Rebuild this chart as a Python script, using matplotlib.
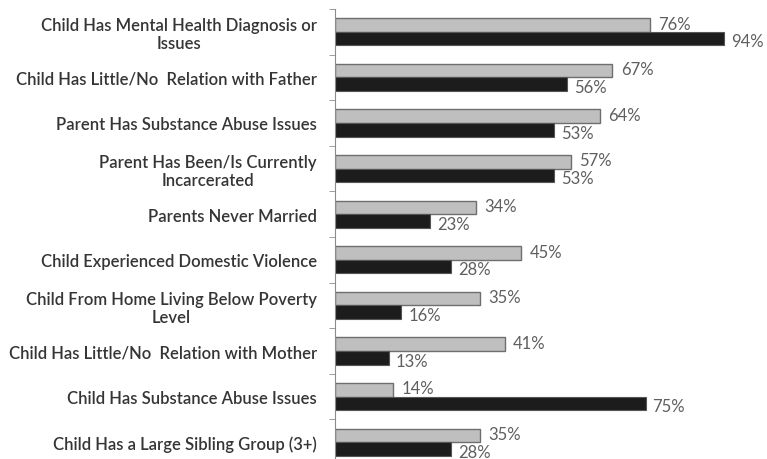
import matplotlib
matplotlib.use("Agg")
import matplotlib.pyplot as plt
import numpy as np

categories = [
    "Child Has Mental Health Diagnosis or\nIssues",
    "Child Has Little/No  Relation with Father",
    "Parent Has Substance Abuse Issues",
    "Parent Has Been/Is Currently\nIncarcerated",
    "Parents Never Married",
    "Child Experienced Domestic Violence",
    "Child From Home Living Below Poverty\nLevel",
    "Child Has Little/No  Relation with Mother",
    "Child Has Substance Abuse Issues",
    "Child Has a Large Sibling Group (3+)",
]
gray_vals = [76, 67, 64, 57, 34, 45, 35, 41, 14, 35]
black_vals = [94, 56, 53, 53, 23, 28, 16, 13, 75, 28]

W, H = 767, 460
fig = plt.figure(figsize=(W / 100, H / 100), dpi=100)
# axes box in pixels: left 335, top 10, bottom 466 (cut off), 4.14 px per %
ax = fig.add_axes([335 / W, (H - 466) / H, 414 / W, 456 / H])

y = np.arange(len(categories))
bh = 0.30
ax.barh(y - bh / 2, gray_vals, height=bh, color="#bfbfbf", edgecolor="#6e6e6e", linewidth=1.0)
ax.barh(y + bh / 2, black_vals, height=bh, color="#1c1c1c", edgecolor="#555555", linewidth=0.8)

ax.set_xlim(0, 100)
ax.set_ylim(len(categories) - 0.5, -0.5)

lab_font = dict(family=["Lato", "DejaVu Sans"], fontsize=12, color="#5f5f5f")
for i, (g, b) in enumerate(zip(gray_vals, black_vals)):
    ax.annotate(f"{g}%", (g, i - bh / 2), xytext=(6, 1), textcoords="offset points",
                ha="left", va="center", **lab_font)
    ax.annotate(f"{b}%", (b, i + bh / 2), xytext=(5, -2), textcoords="offset points",
                ha="left", va="center", **lab_font)

ax.set_yticks(y)
ax.set_yticklabels(categories, ha="right", multialignment="center",
                   family=["Lato", "DejaVu Sans"], fontweight="semibold",
                   fontsize=12, color="#353535", linespacing=1.15)
ax.tick_params(axis="y", which="major", length=0, pad=13)
ax.set_yticks(np.arange(-0.5, len(categories), 1), minor=True)
ax.tick_params(axis="y", which="minor", length=4, color="#8c8c8c", direction="out")
ax.set_xticks([])

for s in ["top", "right", "bottom"]:
    ax.spines[s].set_visible(False)
ax.spines["left"].set_color("#8c8c8c")

fig.savefig("out.png", dpi=100)
